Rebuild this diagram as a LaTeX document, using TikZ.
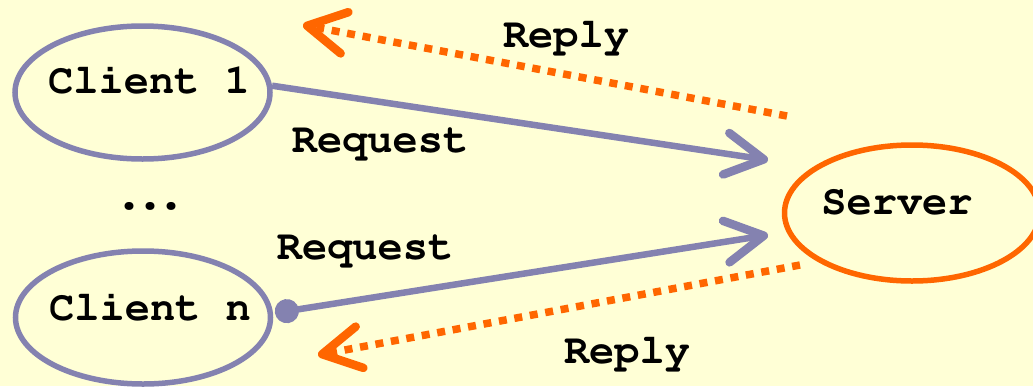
\documentclass[tikz,border=0pt]{standalone}
\usepackage[T1]{fontenc}
\renewcommand{\ttdefault}{pcr}
\usetikzlibrary{shapes.geometric,arrows.meta}
\definecolor{paper}{RGB}{255,255,214}
\definecolor{clientblue}{RGB}{132,130,176}
\definecolor{replyorange}{RGB}{255,102,0}
\begin{document}
\begin{tikzpicture}[x=1pt,y=-1pt,
  every node/.style={font=\fontsize{42}{50}\selectfont\ttfamily\bfseries, text=black, inner sep=0pt},
  hostshape/.style={ellipse, line width=5.5pt, minimum width=255pt, minimum height=133pt},
  clientshape/.style={hostshape, draw=clientblue},
  servershape/.style={hostshape, draw=replyorange, minimum height=136pt},
  barb/.tip={Straight Barb[length=38pt,width=42pt,round,line width=8.5pt]},
  request/.style={draw=clientblue, line width=6.5pt},
  reply/.style={draw=replyorange, line width=7.5pt, dash pattern=on 8pt off 7.7pt},
]
% canvas
\useasboundingbox (0,0) rectangle (1033,386);
\fill[paper] (0,0) rectangle (1033,386);

% hosts
\node[clientshape] (c1) at (142.5,92.5) {};
\node[clientshape] (cn) at (143,317.5) {};
\node[servershape] (srv) at (912,213) {};
\node[anchor=base] (c1t) at (149,93) {Client 1};
\node[anchor=base] (cnt) at (150,320) {Client n};
\node[anchor=base] (srvt) at (897,214) {Server};
\node[anchor=base, font=\fontsize{60}{60}\selectfont\ttfamily\bfseries] (dots) at (150,209)
  {.\kern-15pt.\kern-15pt.};

% free ends of the connectors
\coordinate (t1) at (768,160);
\coordinate (qs) at (275,313);
\coordinate (tn) at (768,235);
\coordinate (ras) at (787,116);
\coordinate (rat) at (303,25);
\coordinate (rbs) at (800,265);
\coordinate (rbt) at (318,355);

% requests
\draw[request, -barb] (c1.3) -- (t1);
\draw[request, {Circle[length=24pt]}-barb] (qs) -- (tn);

% replies
\draw[reply, -barb] (ras) -- (rat);
\draw[reply, -barb] (rbs) -- (rbt);

% labels
\node[anchor=base] (lreply1) at (566,47) {Reply};
\node[anchor=base] (lreq1) at (380,152) {Request};
\node[anchor=base] (lreqn) at (365,259) {Request};
\node[anchor=base] (lreplyn) at (627,363) {Reply};
\end{tikzpicture}
\end{document}
